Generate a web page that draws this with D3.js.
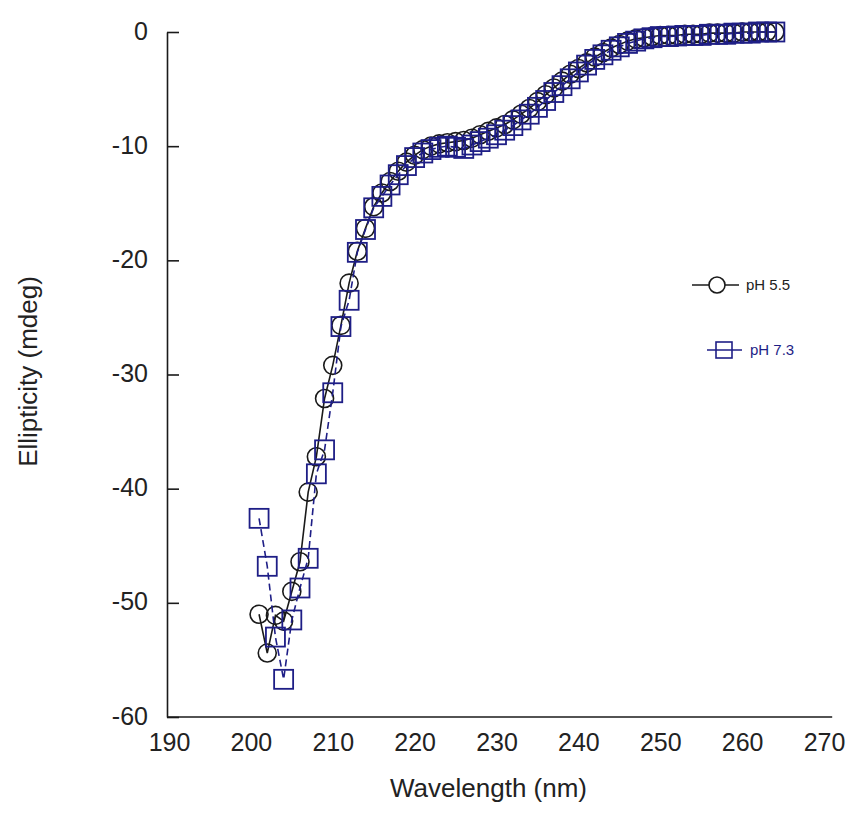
<!DOCTYPE html>
<html>
<head>
<meta charset="utf-8">
<script src="https://cdn.jsdelivr.net/npm/d3@7"></script>
<style>
  html, body { margin: 0; padding: 0; background: #ffffff; }
  svg { display: block; font-family: "Liberation Sans", Arial, sans-serif; }
</style>
</head>
<body>
<svg id="chart" width="862" height="836"></svg>
<script>
// ---------------- data ----------------
const wavelengths = [
  201,202,203,204,205,206,207,208,209,210,
  211,212,213,214,215,216,217,218,219,220,
  221,222,223,224,225,226,227,228,229,230,
  231,232,233,234,235,236,237,238,239,240,
  241,242,243,244,245,246,247,248,249,250,
  251,252,253,254,255,256,257,258,259,260,
  261,262,263,264
];
const ph55 = [
  -51.0,-54.4,-51.1,-51.6,-49.0,-46.4,-40.3,-37.2,-32.1,-29.2,
  -25.7,-22.0,-19.2,-17.2,-15.3,-14.1,-13.1,-12.2,-11.4,-10.8,
  -10.3,-10.0,-9.8,-9.7,-9.6,-9.5,-9.3,-9.0,-8.7,-8.4,
  -8.1,-7.7,-7.2,-6.7,-6.1,-5.5,-4.9,-4.3,-3.7,-3.2,
  -2.7,-2.2,-1.8,-1.4,-1.1,-0.8,-0.6,-0.5,-0.4,-0.3,
  -0.3,-0.3,-0.2,-0.2,-0.2,-0.1,-0.1,-0.1,-0.1,0.0,
  0.0,0.0,0.0,0.0
];
const ph73 = [
  -42.6,-46.8,-53.0,-56.7,-51.5,-48.7,-46.1,-38.7,-36.6,-31.6,
  -25.8,-23.5,-19.3,-17.3,-15.4,-14.4,-13.4,-12.5,-11.7,-11.0,
  -10.6,-10.3,-10.1,-10.0,-10.1,-10.2,-9.9,-9.6,-9.3,-9.0,
  -8.6,-8.2,-7.7,-7.2,-6.6,-6.0,-5.3,-4.7,-4.1,-3.5,
  -2.9,-2.4,-2.0,-1.6,-1.3,-1.0,-0.8,-0.6,-0.5,-0.4,
  -0.4,-0.35,-0.3,-0.3,-0.3,-0.2,-0.2,-0.2,-0.1,-0.1,
  -0.1,0.0,0.0,0.0
];
const xTicks = [190,200,210,220,230,240,250,260,270];
const yTicks = [0,-10,-20,-30,-40,-50,-60];
const seriesNames = ["pH 5.5","pH 7.3"];
const xTitle = "Wavelength (nm)";
const yTitle = "Ellipticity (mdeg)";

// ---------------- layout ----------------
const svg = d3.select("#chart");
const x = d3.scaleLinear().domain([190,270]).range([169,824]);
const y = d3.scaleLinear().domain([-60,0]).range([717,32]);
const navy = "#1e1e86";
const ink = "#1a1a1a";

// axes
const yAxis = d3.axisLeft(y).tickValues(yTicks).tickSize(-12).tickSizeOuter(0).tickPadding(19)
  .tickFormat(d => String(d));
const gy = svg.append("g").attr("transform", `translate(${x(190)-2},0)`).call(yAxis);
gy.selectAll("path.domain").attr("stroke", ink).attr("stroke-width", 1.6);
gy.selectAll(".tick line").attr("stroke", ink).attr("stroke-width", 1.6);
gy.selectAll(".tick text").attr("font-size", 25).attr("fill", "#222").attr("dy", "0.28em")
  .style("font-family", "Liberation Sans, Arial, sans-serif");

const xAxis = d3.axisBottom(x).tickValues(xTicks).tickSize(0).tickPadding(16).tickFormat(d => String(d));
const gx = svg.append("g").attr("transform", `translate(0,${y(-60)})`).call(xAxis);
gx.select("path.domain").remove();
gx.selectAll(".tick text").attr("font-size", 25).attr("fill", "#222")
  .style("font-family", "Liberation Sans, Arial, sans-serif");
svg.append("line")
  .attr("x1", x(190)-2).attr("x2", x(271)).attr("y1", y(-60)).attr("y2", y(-60))
  .attr("stroke", ink).attr("stroke-width", 1.6);

// titles
svg.append("text").attr("x", (x(190)+x(270))/2 - 8).attr("y", 797)
  .attr("text-anchor", "middle").attr("font-size", 26).attr("fill", "#222").text(xTitle);
svg.append("text").attr("transform", `translate(37,${(y(0)+y(-60))/2 - 3}) rotate(-90)`)
  .attr("text-anchor", "middle").attr("font-size", 26).attr("fill", "#222").text(yTitle);

// data
const d55 = wavelengths.map((w,i) => ({w, v: ph55[i]}));
const d73 = wavelengths.map((w,i) => ({w, v: ph73[i]}));
const line = d3.line().x(d => x(d.w)).y(d => y(d.v));

svg.append("path").datum(d55).attr("d", line)
  .attr("fill", "none").attr("stroke", ink).attr("stroke-width", 1.6);
svg.append("g").selectAll("circle").data(d55).join("circle")
  .attr("cx", d => x(d.w)).attr("cy", d => y(d.v)).attr("r", 9)
  .attr("fill", "none").attr("stroke", ink).attr("stroke-width", 1.6);

svg.append("path").datum(d73).attr("d", line)
  .attr("fill", "none").attr("stroke", navy).attr("stroke-width", 1.6)
  .attr("stroke-dasharray", "7,4");
const sq = 19;
svg.append("g").selectAll("rect").data(d73).join("rect")
  .attr("x", d => x(d.w) - sq/2).attr("y", d => y(d.v) - sq/2)
  .attr("width", sq).attr("height", sq)
  .attr("fill", "none").attr("stroke", navy).attr("stroke-width", 1.8);

// legend
const lg = svg.append("g");
const l1 = lg.append("g").attr("transform", "translate(717,285)");
l1.append("line").attr("x1", -25).attr("x2", 22).attr("stroke", ink).attr("stroke-width", 1.6);
l1.append("circle").attr("r", 8).attr("fill", "#fff").attr("stroke", ink).attr("stroke-width", 1.6);
l1.append("text").attr("x", 29).attr("dy", "0.35em").attr("font-size", 15).attr("fill", "#222").text(seriesNames[0]);

const l2 = lg.append("g").attr("transform", "translate(724,350)");
l2.append("line").attr("x1", -17).attr("x2", 18).attr("stroke", navy).attr("stroke-width", 1.6);
l2.append("rect").attr("x", -8).attr("y", -8).attr("width", 16).attr("height", 16)
  .attr("fill", "none").attr("stroke", navy).attr("stroke-width", 1.6);
l2.append("text").attr("x", 26).attr("dy", "0.35em").attr("font-size", 15).attr("fill", navy).text(seriesNames[1]);
</script>
</body>
</html>
